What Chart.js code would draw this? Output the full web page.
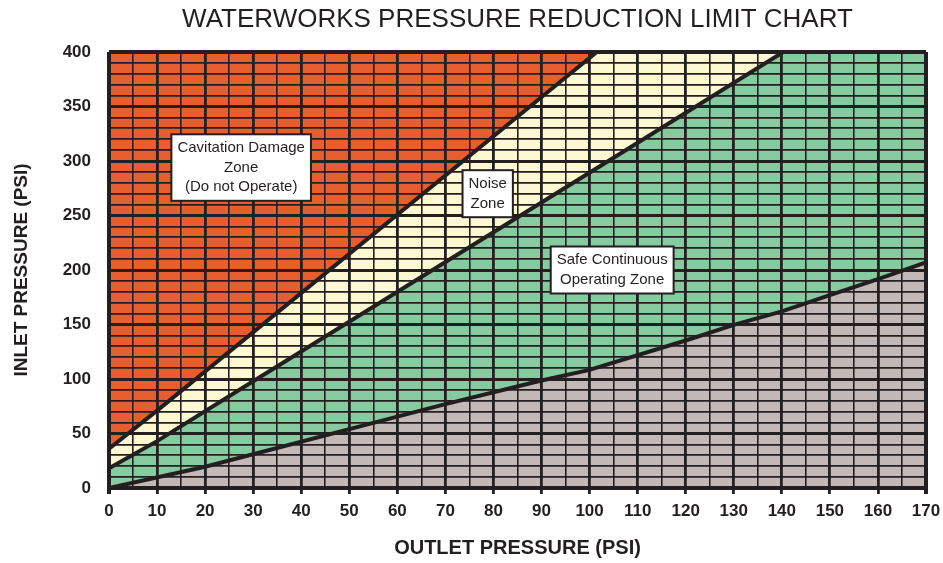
<!DOCTYPE html>
<html>
<head>
<meta charset="utf-8">
<script src="https://cdn.jsdelivr.net/npm/chart.js@4"></script>
<style>
  html, body { margin: 0; padding: 0; background: #fff; }
  #wrap { width: 943px; height: 563px; }
</style>
</head>
<body>
<div id="wrap"><canvas id="limitChart" width="943" height="563"></canvas></div>
<script>
// boundary lines (outlet psi -> inlet psi)
const cavitationOutlet = [0, 10, 101.5];
const cavitationInlet  = [36, 71, 400];
const noiseOutlet = [0, 10, 30, 105, 140.3];
const noiseInlet  = [18, 43, 98, 303, 400];
const lowerOutlet = [0, 20, 60, 70, 90, 100, 120, 130, 140, 150, 160, 170];
const lowerInlet  = [0, 19.5, 65.5, 77, 98.6, 108.4, 135.3, 149.7, 162, 177, 191.6, 207];

const xTicks = [0, 10, 20, 30, 40, 50, 60, 70, 80, 90, 100, 110, 120, 130, 140, 150, 160, 170];
const yTicks = [0, 50, 100, 150, 200, 250, 300, 350, 400];

const zoneNames = [
    ['Cavitation Damage', 'Zone', '(Do not Operate)'],
    ['Noise', 'Zone'],
    ['Safe Continuous', 'Operating Zone']
];

// where the zone boxes sit, in axis units
const boxAt = [
    { x: 27.5, y: 294 },
    { x: 78.8, y: 270 },
    { x: 104.7, y: 200 }
];

const INK = '#231f20';
const FONT = "'Liberation Sans', Arial, Helvetica, sans-serif";

const toPoints = (xs, ys) => xs.map((x, i) => ({ x: x, y: ys[i] }));

// green background for the safe zone
const safeBackground = {
    id: 'safeBackground',
    beforeDatasetsDraw(chart) {
        const a = chart.chartArea;
        const ctx = chart.ctx;
        ctx.save();
        ctx.fillStyle = '#86cba0';
        ctx.fillRect(a.left, a.top, a.right - a.left, a.bottom - a.top);
        ctx.restore();
    }
};

// white label boxes
const zoneBoxes = {
    id: 'zoneBoxes',
    afterDraw(chart) {
        const ctx = chart.ctx;
        const xs = chart.scales.x, ys = chart.scales.y;
        ctx.save();
        ctx.font = '15px ' + FONT;
        ctx.textAlign = 'center';
        ctx.textBaseline = 'middle';
        zoneNames.forEach((lines, i) => {
            const cx = xs.getPixelForValue(boxAt[i].x);
            const cy = ys.getPixelForValue(boxAt[i].y);
            const lh = 19.5;
            const w = Math.max(...lines.map(l => ctx.measureText(l).width)) + 12;
            const h = lines.length * lh + 8;
            ctx.fillStyle = '#fff';
            ctx.fillRect(cx - w / 2, cy - h / 2, w, h);
            ctx.lineWidth = 2;
            ctx.strokeStyle = INK;
            ctx.strokeRect(cx - w / 2, cy - h / 2, w, h);
            ctx.fillStyle = INK;
            lines.forEach((l, j) => {
                ctx.fillText(l, cx, cy + (j - (lines.length - 1) / 2) * lh);
            });
        });
        ctx.restore();
    }
};

const lineStyle = {
    borderColor: INK,
    borderWidth: 4,
    pointRadius: 0,
    tension: 0
};

new Chart(document.getElementById('limitChart'), {
    type: 'line',
    data: {
        datasets: [
            Object.assign({ data: toPoints(cavitationOutlet, cavitationInlet), fill: 'end', backgroundColor: '#e85d2e' }, lineStyle),
            Object.assign({ data: toPoints(noiseOutlet, noiseInlet), fill: 'end', backgroundColor: '#fbf8d2' }, lineStyle),
            Object.assign({ data: toPoints(lowerOutlet, lowerInlet), fill: 'start', backgroundColor: '#c2b8b6' }, lineStyle)
        ]
    },
    options: {
        responsive: false,
        animation: false,
        events: [],
        layout: { padding: { left: 0, right: 17, top: 0, bottom: 0 } },
        plugins: {
            legend: { display: false },
            tooltip: { enabled: false },
            title: {
                display: true,
                fullSize: false,
                text: 'WATERWORKS PRESSURE REDUCTION LIMIT CHART',
                color: INK,
                font: { family: FONT, size: 26, weight: 'normal', lineHeight: 1.2 },
                padding: { top: 4, bottom: 16.8 }
            }
        },
        scales: {
            x: {
                type: 'linear',
                min: 0,
                max: 170,
                z: 1,
                border: { display: false },
                afterFit(s) {
                    s.height = 75;
                    s.paddingLeft = 0;
                    s.paddingRight = 0;
                },
                ticks: {
                    stepSize: 5,
                    autoSkip: false,
                    maxRotation: 0,
                    padding: 7,
                    color: INK,
                    font: { family: FONT, size: 17, weight: 'bold' },
                    callback: v => xTicks.includes(v) ? String(v) : ''
                },
                grid: {
                    z: 1,
                    color: INK,
                    tickLength: 6,
                    tickColor: c => xTicks.includes(c.tick.value) ? INK : 'rgba(0,0,0,0)',
                    lineWidth: c => {
                        const v = c.tick.value;
                        if (v === 0 || v === 170) return 4;
                        return xTicks.includes(v) ? 2.8 : 1.6;
                    }
                },
                title: {
                    display: true,
                    text: 'OUTLET PRESSURE (PSI)',
                    color: INK,
                    font: { family: FONT, size: 20, weight: 'bold', lineHeight: 1.2 },
                    padding: { top: 0, bottom: 3 }
                }
            },
            y: {
                min: 0,
                max: 400,
                z: 1,
                border: { display: false },
                afterFit(s) { s.width = 109; },
                ticks: {
                    stepSize: 10,
                    autoSkip: false,
                    padding: 18,
                    color: INK,
                    font: { family: FONT, size: 17, weight: 'bold' },
                    callback: v => yTicks.includes(v) ? String(v) : ''
                },
                grid: {
                    z: 1,
                    color: INK,
                    drawTicks: false,
                    lineWidth: c => {
                        const v = c.tick.value;
                        if (v === 0 || v === 400) return 4;
                        return yTicks.includes(v) ? 3 : 1.8;
                    }
                },
                title: {
                    display: true,
                    text: 'INLET PRESSURE (PSI)',
                    color: INK,
                    font: { family: FONT, size: 19, weight: 'bold', lineHeight: 1.2 },
                    padding: { top: 10, bottom: 0 }
                }
            }
        }
    },
    plugins: [safeBackground, zoneBoxes]
});
</script>
</body>
</html>
